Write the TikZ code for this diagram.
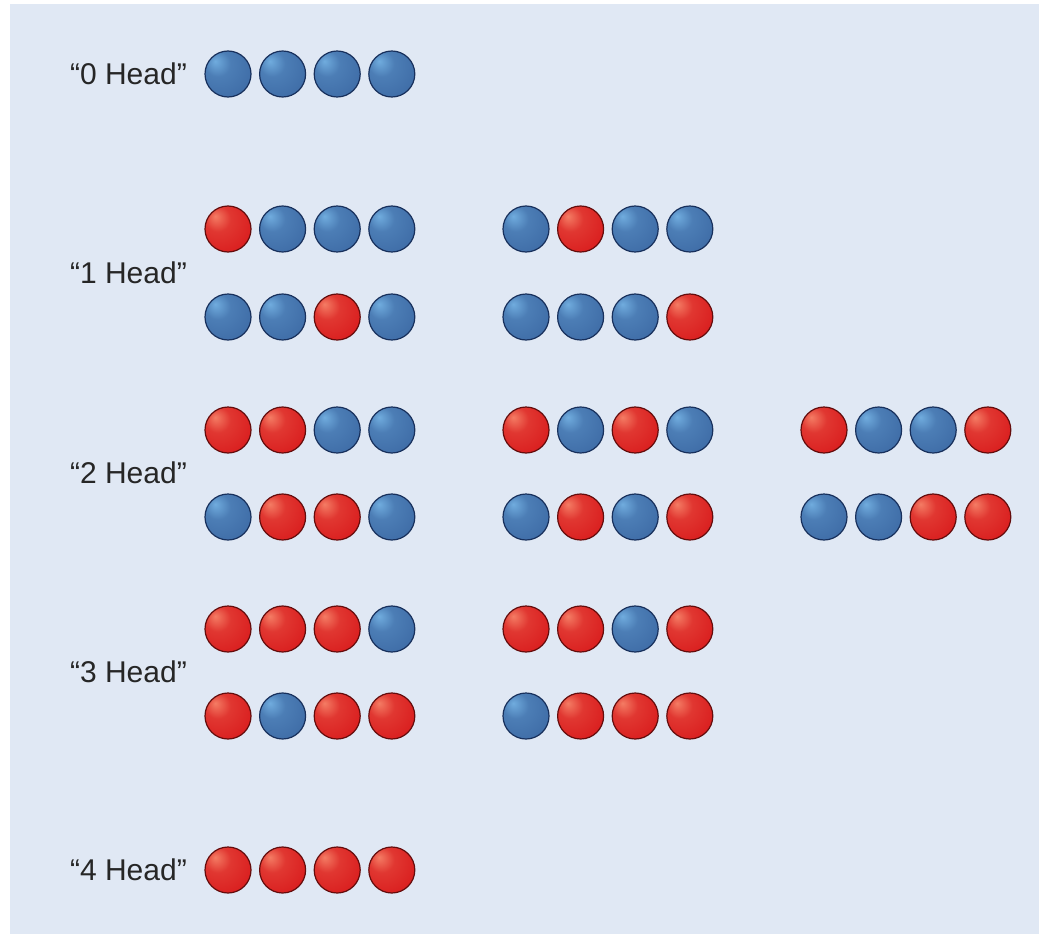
\documentclass[tikz,border=0pt]{standalone}
\usepackage{fontspec}
\setmainfont{Liberation Sans}
\usepackage{tikz}
\usetikzlibrary{positioning,calc}

\definecolor{bgblue}{RGB}{224,232,244}
\definecolor{hib}{RGB}{112,172,222}
\definecolor{midb}{RGB}{64,110,168}
\definecolor{lowb}{RGB}{38,74,130}
\definecolor{edgeb}{RGB}{24,48,92}
\definecolor{hir}{RGB}{244,124,100}
\definecolor{midr}{RGB}{218,32,32}
\definecolor{lowr}{RGB}{172,16,16}
\definecolor{edger}{RGB}{100,12,12}

\pgfdeclareradialshading{sphb}{\pgfpoint{-14bp}{14bp}}{color(0bp)=(hib); color(14bp)=(midb!75!hib); color(34bp)=(midb); color(56bp)=(lowb); color(70bp)=(lowb)}
\pgfdeclareradialshading{sphr}{\pgfpoint{-14bp}{14bp}}{color(0bp)=(hir); color(14bp)=(midr!75!hir); color(34bp)=(midr); color(56bp)=(lowr); color(70bp)=(lowr)}

\tikzset{
  coin/.style={circle, minimum size=46pt, inner sep=0pt, line width=1.2pt, draw=edge#1, shading=sph#1},
  headlabel/.style={anchor=east, inner sep=0pt, text=black!85, font=\fontsize{30}{35}\selectfont}
}

\begin{document}
\begin{tikzpicture}[x=1pt,y=-1pt]
    \useasboundingbox (0,0) rectangle (1039,934);
    \fill[bgblue] (10,4) rectangle (1039,934);

    % labels
    \node[headlabel] (lab0) at (187,74) {“0 Head”};
    \node[headlabel] (lab1) at (187,273) {“1 Head”};
    \node[headlabel] (lab2) at (187,473) {“2 Head”};
    \node[headlabel] (lab3) at (187,672) {“3 Head”};
    \node[headlabel] (lab4) at (187,870) {“4 Head”};

    % rows of coins: name / first x / y / faces
    \foreach \n/\x/\y/\pat in {
        z/228/74/{b,b,b,b},
        oa/228/229/{r,b,b,b}, ob/526/229/{b,r,b,b},
        oc/228/317/{b,b,r,b}, od/526/317/{b,b,b,r},
        ta/228/430/{r,r,b,b}, tb/526/430/{r,b,r,b}, tc/824/430/{r,b,b,r},
        td/228/517/{b,r,r,b}, te/526/517/{b,r,b,r}, tf/824/517/{b,b,r,r},
        ha/228/629/{r,r,r,b}, hb/526/629/{r,r,b,r},
        hc/228/716/{r,b,r,r}, hd/526/716/{b,r,r,r},
        f/228/870/{r,r,r,r}}
      \foreach \c [count=\i from 0] in \pat
        \node[coin=\c] (c\n\i) at ({\x+54.6*\i},\y) {};
\end{tikzpicture}
\end{document}
